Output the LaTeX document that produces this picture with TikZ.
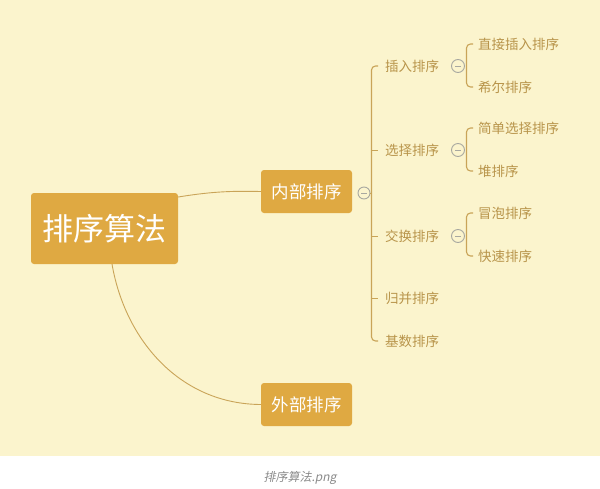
\documentclass[tikz,border=0pt]{standalone}
\usepackage{fontspec}
\setmainfont{Noto Sans CJK SC}
\newfontfamily\capfont[FakeSlant=0.2]{Noto Sans CJK SC}
\definecolor{bgcream}{HTML}{FBF4CD}
\definecolor{boxgold}{HTML}{DFA942}
\definecolor{linegold}{HTML}{C9A458}
\definecolor{labgold}{HTML}{B8944A}
\definecolor{circgray}{HTML}{A8A8A0}
\definecolor{capgray}{HTML}{8A8A8A}
\tikzset{
  x=1pt,y=-1pt,
  rootbox/.style={fill=boxgold,rounded corners=3pt,text=white,font=\fontsize{31}{33}\selectfont,minimum width=147pt,minimum height=71pt,inner sep=0pt},
  midbox/.style={fill=boxgold,rounded corners=3pt,text=white,font=\fontsize{17.5}{19}\selectfont,minimum width=91pt,minimum height=43pt,inner sep=0pt},
  leaf/.style={text=labgold,font=\fontsize{13.5}{15}\selectfont,anchor=west,inner sep=0pt},
  conn/.style={draw=linegold,line width=0.9pt},
  brk/.style={draw=linegold,line width=1.1pt,rounded corners=4pt},
  fold/.style={circle,draw=circgray,line width=0.9pt,minimum size=#1,inner sep=0pt,
    path picture={\draw[circgray,line width=0.9pt] ([xshift=-3pt]path picture bounding box.center) -- ([xshift=3pt]path picture bounding box.center);}},
  fold/.default=13pt,
}
\begin{document}
\begin{tikzpicture}
\useasboundingbox (0,0) rectangle (600,488);
\fill[white] (0,0) rectangle (600,488);
\fill[bgcream] (0,0) rectangle (600,456);

% main nodes
\node[rootbox] (root) at (104.5,228.5) {排序算法};
\node[midbox] (inner) at (306.5,191.5) {内部排序};
\node[midbox] (outer) at (306.5,404.5) {外部排序};

% connectors from root
\draw[conn] (root.east |- 0,197) .. controls (215,191) and (235,191) .. (inner.west);
\draw[conn] (112,264) .. controls (125,340) and (180,404) .. (outer.west);

% fold circles
\node[fold=12pt] (f0) at (364,193) {};
\node[fold] (f1) at (458,66) {};
\node[fold] (f2) at (458,150) {};
\node[fold] (f3) at (458,236) {};

% level 2 labels
\node[leaf] (a1) at (385,66) {插入排序};
\node[leaf] (a2) at (385,150) {选择排序};
\node[leaf] (a3) at (385,236) {交换排序};
\node[leaf] (a4) at (385,298) {归并排序};
\node[leaf] (a5) at (385,341) {基数排序};

% main bracket
\coordinate (bt) at (371.5,66);
\coordinate (bb) at (371.5,341);
\draw[brk] (378,66) -- (bt) -- (bb) -- (378,341);
\draw[conn] (f0.east) -- (371.5,193);
\draw[conn] (371.5,150) -- (378,150);
\draw[conn] (371.5,236) -- (378,236);
\draw[conn] (371.5,298) -- (378,298);

% level 3 labels
\node[leaf] (b1) at (478,44) {直接插入排序};
\node[leaf] (b2) at (478,87) {希尔排序};
\node[leaf] (b3) at (478,128) {简单选择排序};
\node[leaf] (b4) at (478,171) {堆排序};
\node[leaf] (b5) at (478,213) {冒泡排序};
\node[leaf] (b6) at (478,256) {快速排序};

% sub brackets
\draw[brk] (473,44) -- (466.5,44) -- (466.5,87) -- (473,87);
\draw[brk] (473,128) -- (466.5,128) -- (466.5,171) -- (473,171);
\draw[brk] (473,213) -- (466.5,213) -- (466.5,256) -- (473,256);

% caption
\node[text=capgray,font=\capfont\fontsize{12}{14}\selectfont] (cap) at (300,478) {排序算法.png};
\end{tikzpicture}
\end{document}
